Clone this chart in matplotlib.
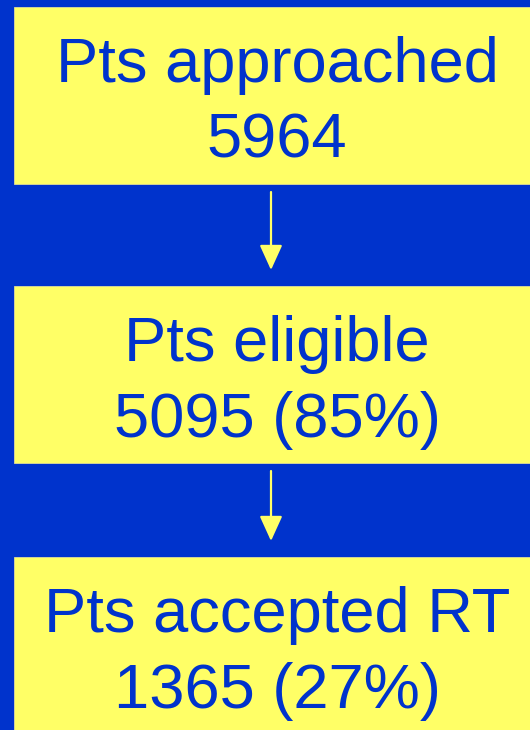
import matplotlib.pyplot as plt
from matplotlib.patches import Rectangle, FancyArrowPatch

# Flow chart data
stages = ["Pts approached", "Pts eligible", "Pts accepted RT"]
counts = [5964, 5095, 1365]
percents = [None, 85, 27]

BG = "#0033CC"
BOX = "#FFFF66"
TXT = "#0033CC"

# layout (pixels, y down)
box_top = [7, 286, 557]
box_h = 177
box_left, box_right = 14, 540
line1_off = 75   # baseline of first line below box top
line2_off = 151  # baseline of second line

fig = plt.figure(figsize=(5.3, 7.3), dpi=100, facecolor=BG)
ax = fig.add_axes([0, 0, 1, 1])
ax.set_xlim(0, 530)
ax.set_ylim(730, 0)
ax.axis("off")
ax.set_facecolor(BG)

cx = (box_left + box_right) / 2
for i, (name, n, p) in enumerate(zip(stages, counts, percents)):
    top = box_top[i]
    ax.add_patch(Rectangle((box_left, top), box_right - box_left, box_h,
                           facecolor=BOX, edgecolor="#dddd99", lw=0.6))
    second = f"{n}" if p is None else f"{n} ({p}%)"
    ax.text(cx, top + line1_off, name, ha="center", va="baseline",
            fontsize=45.5, color=TXT, family="Liberation Sans")
    ax.text(cx, top + line2_off, second, ha="center", va="baseline",
            fontsize=45.5, color=TXT, family="Liberation Sans")

# arrows between boxes
for i in range(len(stages) - 1):
    y0 = box_top[i] + box_h + 8
    y1 = box_top[i + 1] - 16
    ax.add_patch(FancyArrowPatch((271, y0), (271, y1),
                                 arrowstyle="-|>,head_length=1.1,head_width=0.5",
                                 mutation_scale=14, color=BOX, lw=1.6,
                                 shrinkA=0, shrinkB=0))

fig.savefig("out.png", dpi=100, facecolor=BG)
